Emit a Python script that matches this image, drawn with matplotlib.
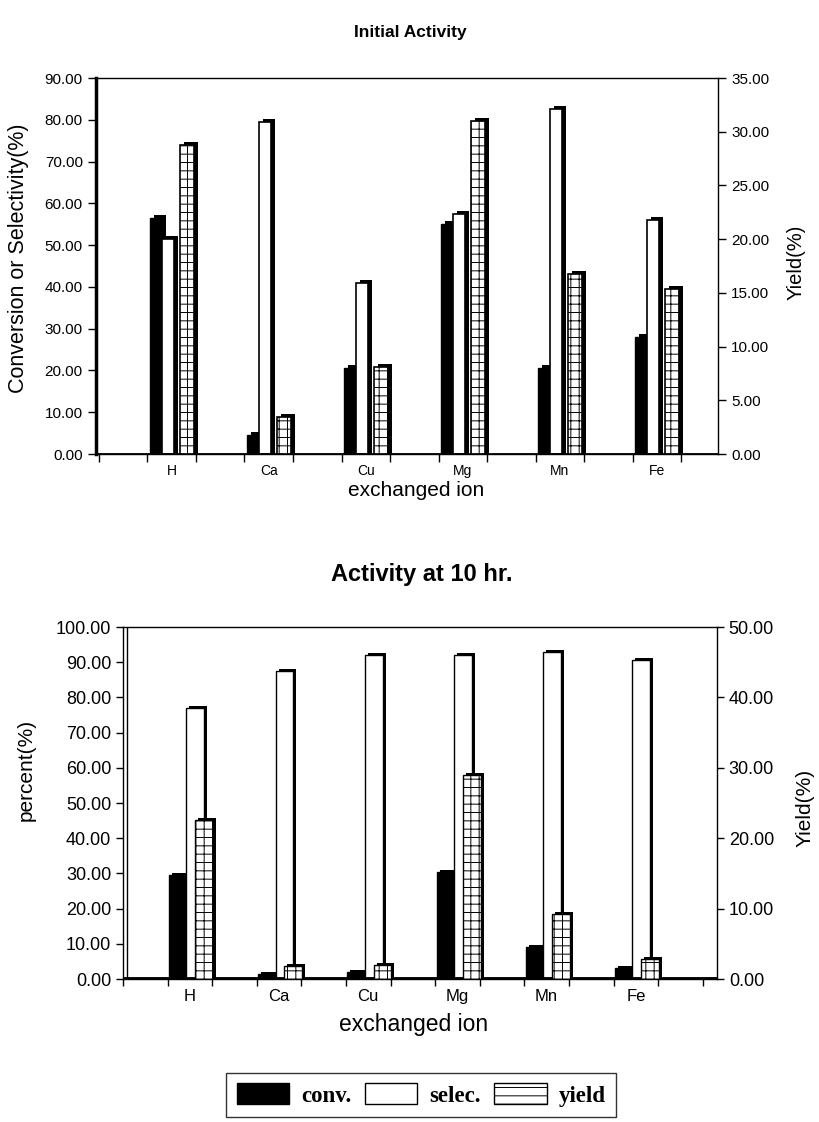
import matplotlib.pyplot as plt
from matplotlib.patches import Patch
import numpy as np

plt.rcParams['font.family'] = ['Liberation Sans', 'DejaVu Sans']
plt.rcParams['hatch.linewidth'] = 0.7

ions = ['H', 'Ca', 'Cu', 'Mg', 'Mn', 'Fe']

# Initial Activity (conv./selec. on left axis, yield on right axis)
init_conv = [56.5, 4.5, 20.5, 55.0, 20.5, 28.0]
init_selec = [51.5, 79.5, 41.0, 57.5, 82.5, 56.0]
init_yield = [28.8, 3.4, 8.1, 31.0, 16.8, 15.4]

# Activity at 10 hr.
hr10_conv = [29.5, 1.5, 2.0, 30.5, 9.0, 3.0]
hr10_selec = [77.0, 87.5, 92.0, 92.0, 93.0, 90.5]
hr10_yield = [22.6, 1.8, 2.0, 29.0, 9.2, 2.8]

W, H = 819, 1122
fig = plt.figure(figsize=(W / 100, H / 100), dpi=100)


def rect(l, t, r, b):
    return [l / W, 1 - b / H, (r - l) / W, (b - t) / H]


def P(x, y):
    return x / W, 1 - y / H


def bars3d(ax, xs, hs, w, face, hatch=None, dx=4, dy=3, lw=1.0):
    # fake 3D: black block shifted right/up behind the front face
    pos = ax.get_position()
    x0, x1 = ax.get_xlim()
    y0, y1 = ax.get_ylim()
    ux = (x1 - x0) / (pos.width * W)
    uy = (y1 - y0) / (pos.height * H)
    xs = np.asarray(xs, float)
    hs = np.asarray(hs, float)
    ax.bar(xs + dx * ux, hs + dy * uy, w, color='black', linewidth=0, zorder=2)
    ax.bar(xs, hs, w, facecolor=face, edgecolor='black', hatch=hatch,
           linewidth=lw, zorder=3)


def style(ax, ax2, fs, cat_fs, lw_left, tick_len):
    for a in (ax, ax2):
        a.tick_params(axis='both', which='major', direction='out',
                      length=tick_len, width=1, labelsize=fs, colors='black')
        a.yaxis.set_major_formatter('{x:.2f}')
    ax.tick_params(axis='x', which='minor', length=0, labelsize=cat_fs, pad=7)
    ax.spines['left'].set_linewidth(lw_left)
    ax.spines['top'].set_linewidth(1)
    ax.spines['bottom'].set_linewidth(1)
    ax.spines['right'].set_visible(False)
    for s in ('left', 'top', 'bottom'):
        ax2.spines[s].set_visible(False)
    ax2.spines['right'].set_linewidth(1)


x = np.arange(len(ions))

# ---- top chart ----
ax1 = fig.add_axes(rect(96, 78, 718, 454))
ax1.set_xlim(-0.78, 5.63)
ax1.set_ylim(0, 90)
ax1b = ax1.twinx()
ax1b.set_ylim(0, 35)
ax1.set_yticks(np.arange(0, 91, 10))
ax1b.set_yticks(np.arange(0, 36, 5))
ax1.set_xticks(np.arange(-0.75, 5.7, 0.5))
ax1.set_xticklabels([])
ax1.set_xticks(x, ions, minor=True)
style(ax1, ax1b, 11, 10, 2.5, 6)

bars3d(ax1, x - 0.16, init_conv, 0.13, 'black')
bars3d(ax1, x - 0.04, init_selec, 0.12, 'white', lw=1.2)
bars3d(ax1b, x + 0.155, init_yield, 0.14, 'white', hatch='++', lw=1.2)
ax1.axhline(0, color='black', lw=2, zorder=5)

fig.text(*P(410, 33), 'Initial Activity', ha='center', va='center',
         fontsize=12.5, fontweight='bold')
fig.text(*P(19, 258), 'Conversion or Selectivity(%)', rotation=90,
         ha='center', va='center', fontsize=15.5)
fig.text(*P(796, 262), 'Yield(%)', rotation=90, ha='center', va='center',
         fontsize=14.5)
fig.text(*P(416, 491), 'exchanged ion', ha='center', va='center', fontsize=15)

# ---- bottom chart ----
ax2 = fig.add_axes(rect(123, 627, 717, 979))
ax2.set_xlim(-0.73, 5.91)
ax2.set_ylim(0, 100)
ax2b = ax2.twinx()
ax2b.set_ylim(0, 50)
ax2.set_yticks(np.arange(0, 101, 10))
ax2b.set_yticks(np.arange(0, 51, 10))
ax2.set_xticks(np.arange(-0.75, 5.9, 0.5))
ax2.set_xticklabels([])
ax2.set_xticks(x, ions, minor=True)
style(ax2, ax2b, 13, 12, 1, 5)

bars3d(ax2, x - 0.15, hr10_conv, 0.17, 'black', dx=3, dy=2)
bars3d(ax2, x + 0.06, hr10_selec, 0.2, 'white', dx=3, dy=2)
bars3d(ax2b, x + 0.16, hr10_yield, 0.2, 'white', hatch='++', dx=3, dy=2)
ax2.axhline(0, color='black', lw=3.5, zorder=5)
ax2.axvline(-0.70, color='black', lw=1, zorder=5)

fig.text(*P(422, 575), 'Activity at 10 hr.', ha='center', va='center',
         fontsize=17, fontweight='bold')
fig.text(*P(26, 770), 'percent(%)', rotation=90, ha='center', va='center',
         fontsize=15)
fig.text(*P(805, 808), 'Yield(%)', rotation=90, ha='center', va='center',
         fontsize=15)
fig.text(*P(414, 1025), 'exchanged ion', ha='center', va='center',
         fontsize=16.5)

# ---- legend ----
handles = [Patch(facecolor='black', edgecolor='black'),
           Patch(facecolor='white', edgecolor='black'),
           Patch(facecolor='white', edgecolor='black', hatch='--')]
leg = fig.legend(handles, ['conv.', 'selec.', 'yield'], loc='center',
                 bbox_to_anchor=P(421, 1095), ncol=3, frameon=True,
                 fancybox=False, edgecolor='black',
                 prop=dict(family='Liberation Serif', weight='bold', size=16.5),
                 handlelength=2.3, handleheight=1.0, columnspacing=0.6,
                 handletextpad=0.5, borderpad=0.45)
leg.get_frame().set_linewidth(1)

fig.savefig('out.png', dpi=100)
